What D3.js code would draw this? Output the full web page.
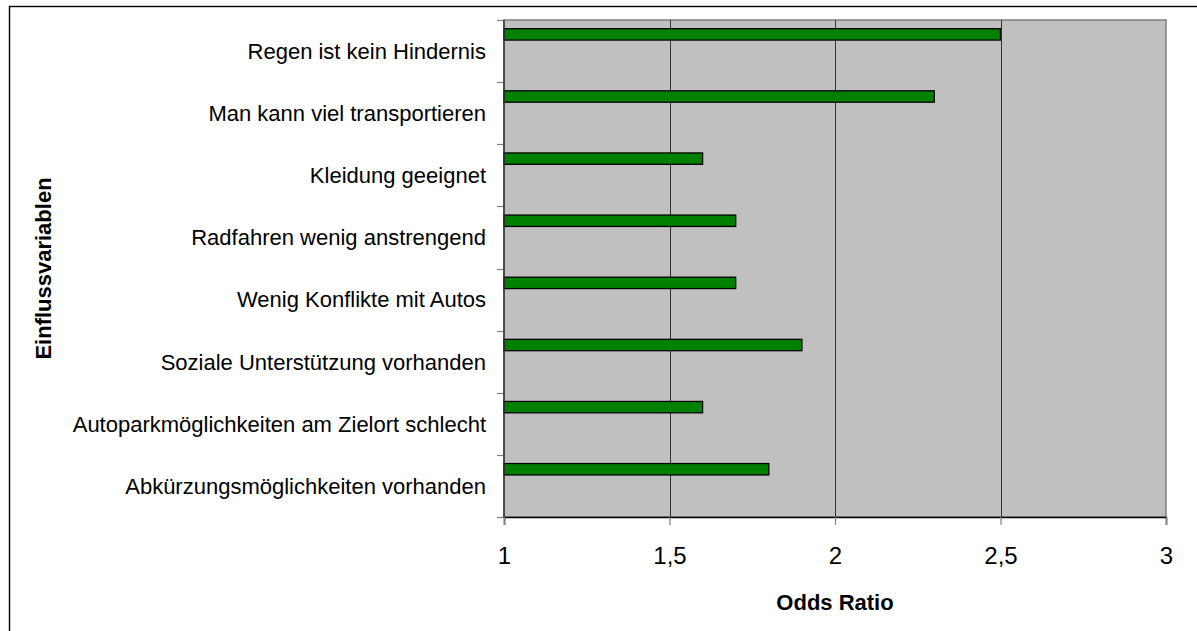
<!DOCTYPE html>
<html lang="de">
<head>
<meta charset="UTF-8">
<title>Odds Ratio Einflussvariablen</title>
<script src="https://d3js.org/d3.v7.min.js"></script>
<style>
    body { margin: 0; background: #fff; }
    svg { display: block; font-family: Arial, "Liberation Sans", sans-serif; }
    .cat text { font-size: 22px; fill: #000; }
    .xtick text { font-size: 24px; fill: #000; }
    .title { font-size: 22px; font-weight: bold; fill: #000; }
</style>
</head>
<body>
<script>
// data
const categories = [
    "Regen ist kein Hindernis",
    "Man kann viel transportieren",
    "Kleidung geeignet",
    "Radfahren wenig anstrengend",
    "Wenig Konflikte mit Autos",
    "Soziale Unterstützung vorhanden",
    "Autoparkmöglichkeiten am Zielort schlecht",
    "Abkürzungsmöglichkeiten vorhanden"
];
const oddsRatio = [2.5, 2.3, 1.6, 1.7, 1.7, 1.9, 1.6, 1.8];
const xTicks = [1, 1.5, 2, 2.5, 3];

const W = 1197, H = 631;
const plot = {left: 504, right: 1166, top: 20, bottom: 517};

const svg = d3.select("body").append("svg")
    .attr("width", W)
    .attr("height", H);

// outer frame (only top/left visible in the picture)
svg.append("rect")
    .attr("x", 9.5).attr("y", 6.5)
    .attr("width", 1400).attr("height", 800)
    .attr("fill", "none")
    .attr("stroke", "#000")
    .attr("stroke-width", 1.4);

const x = d3.scaleLinear().domain([1, 3]).range([plot.left, plot.right]);
const y = d3.scaleBand().domain(categories).range([plot.top, plot.bottom]).padding(0);
const bw = y.bandwidth();

// plot background
svg.append("rect")
    .attr("x", plot.left).attr("y", plot.top)
    .attr("width", plot.right - plot.left)
    .attr("height", plot.bottom - plot.top)
    .attr("fill", "#c0c0c0")
    .attr("stroke", "#808080")
    .attr("stroke-width", 1.5);

// vertical gridlines
svg.append("g")
    .selectAll("line")
    .data(xTicks.filter(d => d > 1 && d < 3))
    .join("line")
    .attr("x1", d => Math.round(x(d)) + 0.5)
    .attr("x2", d => Math.round(x(d)) + 0.5)
    .attr("y1", plot.top)
    .attr("y2", plot.bottom)
    .attr("stroke", "#333")
    .attr("stroke-width", 1);

// bars
svg.append("g")
    .selectAll("rect")
    .data(categories)
    .join("rect")
    .attr("x", x(1))
    .attr("y", d => y(d) + bw * 0.14)
    .attr("width", (d, i) => x(oddsRatio[i]) - x(1))
    .attr("height", bw * 0.183)
    .attr("fill", "#008000")
    .attr("stroke", "#000")
    .attr("stroke-width", 1.3);

// left axis: ticks at category boundaries
const yBounds = categories.map(c => y(c)).concat([plot.bottom]);
svg.append("g")
    .selectAll("line")
    .data(yBounds)
    .join("line")
    .attr("x1", plot.left - 7)
    .attr("x2", plot.left)
    .attr("y1", d => Math.round(d) + 0.5)
    .attr("y2", d => Math.round(d) + 0.5)
    .attr("stroke", "#808080")
    .attr("stroke-width", 1.2);

svg.append("line")
    .attr("x1", plot.left).attr("x2", plot.left)
    .attr("y1", plot.top).attr("y2", plot.bottom)
    .attr("stroke", "#333").attr("stroke-width", 1.5);

// category labels
svg.append("g").attr("class", "cat")
    .selectAll("text")
    .data(categories)
    .join("text")
    .attr("x", 486)
    .attr("y", d => y(d) + bw / 2)
    .attr("dy", "0.36em")
    .attr("text-anchor", "end")
    .text(d => d);

// bottom axis
const xAxis = d3.axisBottom(x)
    .tickValues(xTicks)
    .tickSize(8)
    .tickPadding(22)
    .tickFormat(d => String(d).replace(".", ","));

const gx = svg.append("g")
    .attr("class", "xtick")
    .attr("transform", `translate(0,${plot.bottom})`)
    .call(xAxis);
gx.select(".domain").attr("stroke", "#000").attr("stroke-width", 1.5);
gx.selectAll(".tick line").attr("stroke", "#808080").attr("stroke-width", 1.2);
gx.selectAll(".tick text").attr("font-family", null).attr("font-size", null);
gx.attr("font-family", null).attr("font-size", null);

// axis titles
svg.append("text")
    .attr("class", "title")
    .attr("x", x(2))
    .attr("y", 610)
    .attr("text-anchor", "middle")
    .text("Odds Ratio");

svg.append("text")
    .attr("class", "title")
    .attr("transform", `translate(51,${(plot.top + plot.bottom) / 2}) rotate(-90)`)
    .attr("text-anchor", "middle")
    .text("Einflussvariablen");
</script>
</body>
</html>
